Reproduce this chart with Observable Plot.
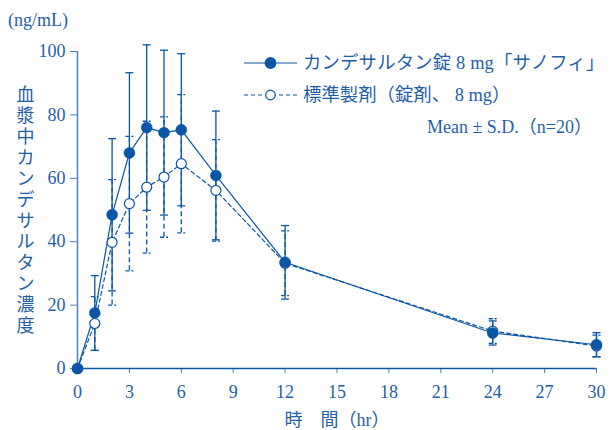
<!DOCTYPE html>
<html>
<head>
<meta charset="utf-8">
<script src="https://cdn.jsdelivr.net/npm/d3@7"></script>
<script src="https://cdn.jsdelivr.net/npm/@observablehq/plot@0.6"></script>
<style>
  html, body { margin: 0; padding: 0; background: #fff; }
  #chart { width: 611px; height: 430px; }
</style>
</head>
<body>
<div id="chart"></div>
<script>
// ---- data ----
const times    = [0, 1, 2, 3, 4, 5, 6, 8, 12, 24, 30];
const testMean = [0, 17.5, 48.5, 68.0, 76.0, 74.4, 75.3, 60.9, 33.5, 11.2, 7.5];
const testSD   = [0, 11.8, 24.0, 25.3, 26.1, 26.0, 24.0, 20.3, 11.6, 3.8, 3.8];
const refMean  = [0, 14.2, 39.8, 52.0, 57.2, 60.4, 64.6, 56.2, 33.2, 11.8, 7.1];
const refSD    = [0, 8.5, 19.8, 21.2, 20.8, 19.0, 21.8, 16.0, 10.2, 3.9, 3.4];

const xTicks = [0, 3, 6, 9, 12, 15, 18, 21, 24, 27, 30];
const yTicks = [0, 20, 40, 60, 80, 100];

const seriesNames = ["カンデサルタン錠 8 mg「サノフィ」", "標準製剤（錠剤、 8 mg）"];
const noteText = "Mean ± S.D.（n=20）";
const yTitle = "血漿中カンデサルタン濃度";
const yUnit = "(ng/mL)";
const xTitle = "時　間（hr）";

// ---- styles ----
const blue = "#0b56a4";
const textBlue = "#1f5fa9";
const axisLight = "#4a84c6";
const font = "'Liberation Serif', 'Noto Sans CJK JP', serif";

const test = times.map((t, i) => ({t, m: testMean[i], lo: testMean[i] - testSD[i], hi: testMean[i] + testSD[i], sd: testSD[i]}));
const ref  = times.map((t, i) => ({t, m: refMean[i],  lo: refMean[i] - refSD[i],  hi: refMean[i] + refSD[i],  sd: refSD[i]}));
const testBars = test.filter(d => d.sd > 0);
const refBars = ref.filter(d => d.sd > 0);

// horizontal cap symbol for error bars
const cap = {draw(ctx, size) { const w = Math.sqrt(size / Math.PI); ctx.moveTo(-w, 0); ctx.lineTo(w, 0); }};
const dash = "5,3";

const chart = Plot.plot({
  width: 611,
  height: 430,
  marginLeft: 77,
  marginRight: 15,
  marginTop: 51,
  marginBottom: 62,
  style: {fontFamily: font, fontSize: "18px", color: textBlue, background: "#fff"},
  x: {domain: [0, 30]},
  y: {domain: [0, 100]},
  marks: [
    Plot.axisX({ticks: xTicks, tickSize: 5, tickPadding: 12, stroke: axisLight, label: null, fontSize: 18}),
    Plot.axisY({ticks: yTicks, tickSize: 7, tickPadding: 5, stroke: axisLight, label: null, fontSize: 18}),
    Plot.ruleX([0], {stroke: axisLight, strokeWidth: 1.5}),
    Plot.ruleY([0], {stroke: blue, strokeWidth: 1.5}),
    // reference product (open, dashed)
    Plot.ruleX(refBars, {x: "t", y1: "lo", y2: "hi", stroke: blue, strokeWidth: 1.3, strokeDasharray: dash}),
    Plot.dot(refBars, {x: "t", y: "hi", symbol: cap, r: 4, stroke: blue, strokeWidth: 1.3, strokeDasharray: "4,2", fill: "none"}),
    Plot.dot(refBars, {x: "t", y: "lo", symbol: cap, r: 4, stroke: blue, strokeWidth: 1.3, strokeDasharray: "4,2", fill: "none"}),
    Plot.line(ref, {x: "t", y: "m", stroke: blue, strokeWidth: 1.2, strokeDasharray: "4,3"}),
    // test product (filled, solid)
    Plot.ruleX(testBars, {x: "t", y1: "lo", y2: "hi", stroke: blue, strokeWidth: 1.3}),
    Plot.dot(testBars, {x: "t", y: "hi", symbol: cap, r: 4, stroke: blue, strokeWidth: 1.3, fill: "none"}),
    Plot.dot(testBars, {x: "t", y: "lo", symbol: cap, r: 4, stroke: blue, strokeWidth: 1.3, fill: "none"}),
    Plot.line(test, {x: "t", y: "m", stroke: blue, strokeWidth: 1.2}),
    Plot.dot(ref, {x: "t", y: "m", r: 5, fill: "white", stroke: blue, strokeWidth: 1.2}),
    Plot.dot(test, {x: "t", y: "m", r: 5.5, fill: blue, stroke: blue, strokeWidth: 0.5}),
    // vertical y-axis title (characters stacked)
    Plot.text([yTitle], {text: d => Array.from(d).join("\n"), frameAnchor: "left", dx: -52, lineHeight: 1.165, fontSize: 18, fill: textBlue, textAnchor: "middle"})
  ]
});
document.getElementById("chart").appendChild(chart);

// ---- extra texts and legend inside the SVG ----
const svg = d3.select(chart);
svg.append("text").attr("x", 8).attr("y", 26).attr("fill", textBlue).attr("text-anchor", "start")
  .style("font-family", font).style("font-size", "18px").text(yUnit);
svg.append("text").attr("x", 337).attr("y", 426).attr("fill", textBlue).attr("text-anchor", "middle")
  .style("font-family", font).style("font-size", "18px").text(xTitle);

const lg = svg.append("g").attr("text-anchor", "start");
const rows = [
  {y: 63, dashed: false, filled: true, label: seriesNames[0], spacing: "0.15px"},
  {y: 95, dashed: true, filled: false, label: seriesNames[1], spacing: "0px"}
];
rows.forEach(r => {
  lg.append("line").attr("x1", 244).attr("x2", 297).attr("y1", r.y).attr("y2", r.y)
    .attr("stroke", blue).attr("stroke-width", 1.2).attr("stroke-dasharray", r.dashed ? "4,3" : null);
  lg.append("circle").attr("cx", 270.5).attr("cy", r.y).attr("r", r.filled ? 5.3 : 4.8)
    .attr("fill", r.filled ? blue : "white").attr("stroke", blue).attr("stroke-width", 1.2);
  lg.append("text").attr("x", 303).attr("y", r.y).attr("dy", "0.35em").attr("fill", textBlue).attr("text-anchor", "start")
    .style("font-family", font).style("font-size", "18.4px").style("letter-spacing", r.spacing).text(r.label);
});
lg.append("text").attr("x", 592).attr("y", 127).attr("dy", "0.35em").attr("text-anchor", "end").attr("fill", textBlue)
  .style("font-family", font).style("font-size", "18px").text(noteText);
</script>
</body>
</html>
